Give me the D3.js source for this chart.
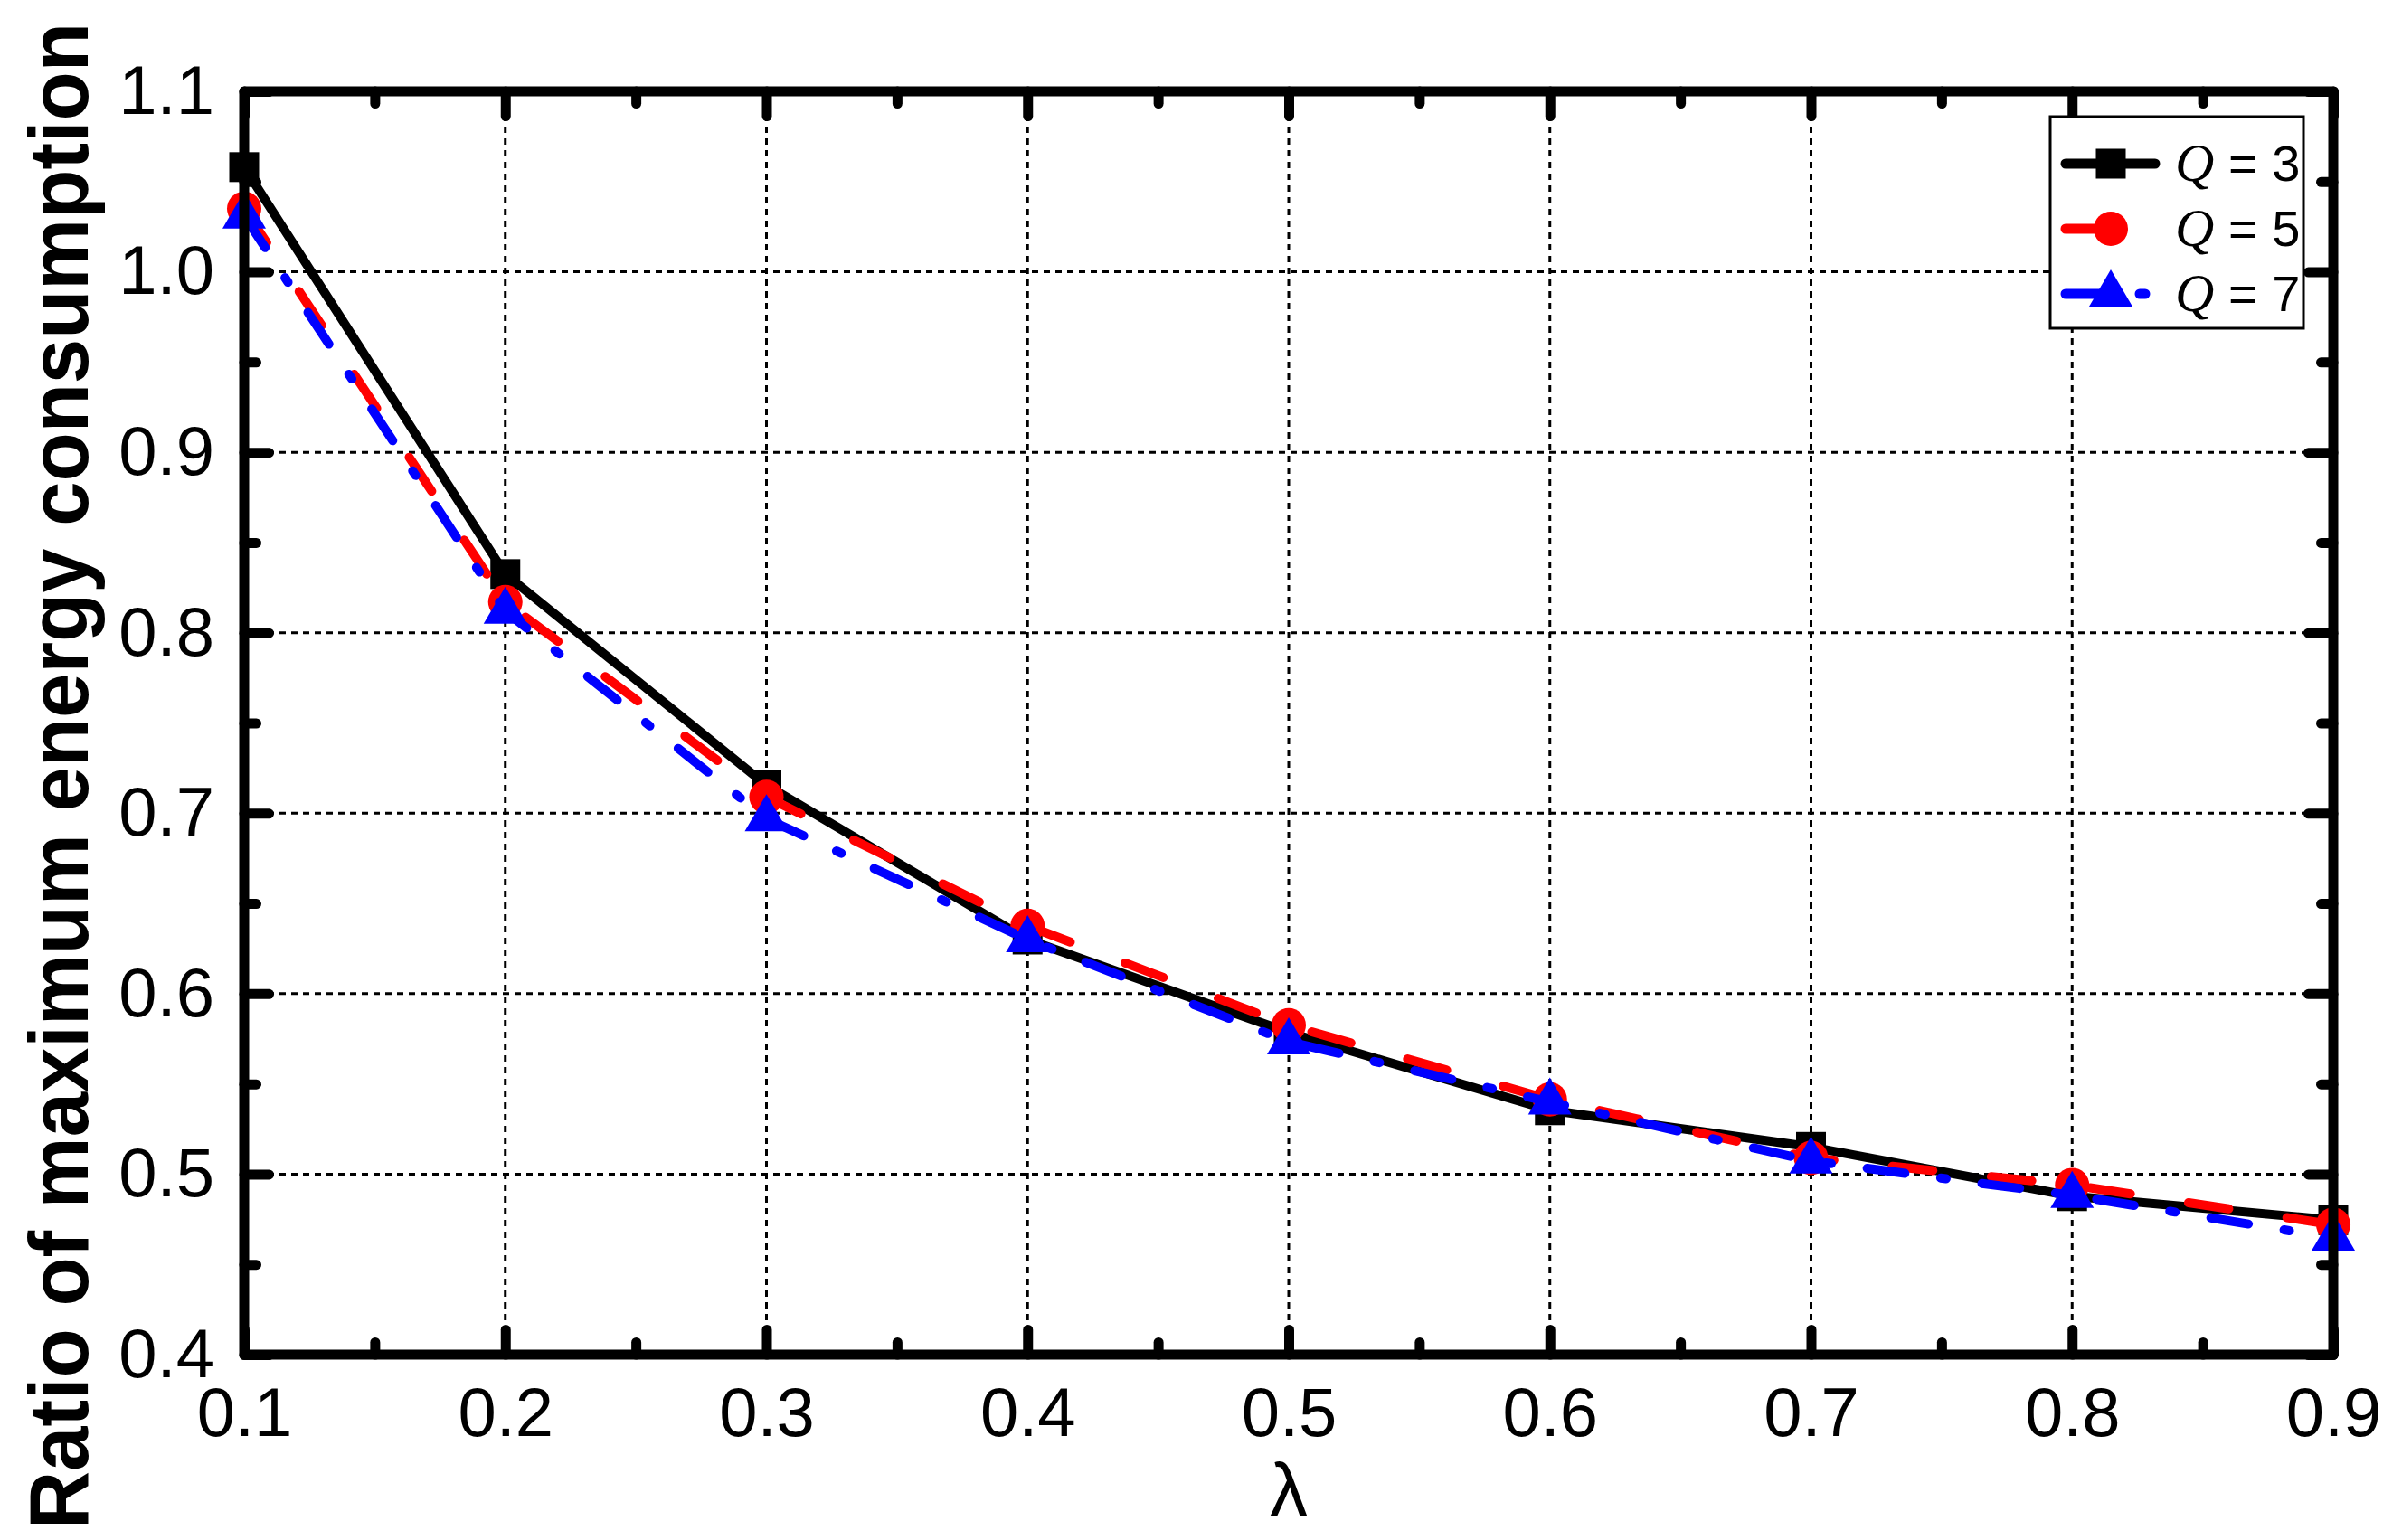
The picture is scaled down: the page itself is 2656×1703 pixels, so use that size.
<!DOCTYPE html>
<html>
<head>
<meta charset="utf-8">
<script src="https://cdn.jsdelivr.net/npm/d3@7"></script>
<style>
  body { margin: 0; background: #fff; }
  svg { display: block; }
  text { font-family: "Liberation Sans", Arial, sans-serif; }
</style>
</head>
<body>
<svg id="chart" width="2656" height="1703"></svg>
<script>
var lambdas = [0.1, 0.2, 0.3, 0.4, 0.5, 0.6, 0.7, 0.8, 0.9];
var q3 = [1.058, 0.8325, 0.7155, 0.630, 0.5785, 0.5354, 0.5151, 0.4878, 0.4745];
var q5 = [1.035, 0.817, 0.709, 0.6376, 0.5825, 0.5414, 0.509, 0.494, 0.472];
var q7 = [1.031, 0.812, 0.697, 0.630, 0.5734, 0.540, 0.5073, 0.4883, 0.4647];
var seriesNames = ["3", "5", "7"];
var xTicks = [0.1, 0.2, 0.3, 0.4, 0.5, 0.6, 0.7, 0.8, 0.9];
var yTicks = [0.4, 0.5, 0.6, 0.7, 0.8, 0.9, 1.0, 1.1];

// plot box (note: "top" is reserved on window, so use plot* names)
var plotLeft = 270, plotRight = 2580, plotTop = 101, plotBottom = 1498;
var svg = d3.select("#chart");

var x = d3.scaleLinear().domain([0.1, 0.9]).range([plotLeft, plotRight]);
var y = d3.scaleLinear().domain([0.4, 1.1]).range([plotBottom, plotTop]);

var xMinor = d3.range(0.15, 0.9, 0.1);
var yMinor = d3.range(0.45, 1.1, 0.1);

// grid
var grid = svg.append("g")
  .attr("stroke", "#000")
  .attr("stroke-width", 3)
  .attr("stroke-dasharray", "7,6");
grid.selectAll(".gx")
  .data(xTicks.slice(1, -1))
  .enter().append("line")
  .attr("x1", function(d) { return x(d); })
  .attr("x2", function(d) { return x(d); })
  .attr("y1", plotTop).attr("y2", plotBottom);
grid.selectAll(".gy")
  .data(yTicks.slice(1, -1))
  .enter().append("line")
  .attr("y1", function(d) { return y(d); })
  .attr("y2", function(d) { return y(d); })
  .attr("x1", plotLeft).attr("x2", plotRight);

// series
var series = [
  {name: seriesNames[0], values: q3, color: "#000000", dash: null, shape: "square"},
  {name: seriesNames[1], values: q5, color: "#ff0000", dash: "45,65", shape: "circle"},
  {name: seriesNames[2], values: q7, color: "#0000ff", dash: "42,40,6,40", shape: "tri"}
];

var line = d3.line()
  .x(function(d, i) { return x(lambdas[i]); })
  .y(function(d) { return y(d); });

function marker(g, s, cx, cy) {
  if (s.shape === "square") {
    g.append("rect").attr("x", cx - 16.5).attr("y", cy - 16.5)
      .attr("width", 33).attr("height", 33).attr("fill", s.color);
  } else if (s.shape === "circle") {
    g.append("circle").attr("cx", cx).attr("cy", cy).attr("r", 19).attr("fill", s.color);
  } else {
    g.append("path")
      .attr("d", "M" + cx + "," + (cy - 27) + "L" + (cx + 24) + "," + (cy + 14) +
                 "L" + (cx - 24) + "," + (cy + 14) + "Z")
      .attr("fill", s.color);
  }
}

series.forEach(function(s) {
  var g = svg.append("g");
  g.append("path")
    .datum(s.values)
    .attr("d", line)
    .attr("fill", "none")
    .attr("stroke", s.color)
    .attr("stroke-width", 10)
    .attr("stroke-linecap", "round")
    .attr("stroke-linejoin", "round")
    .attr("stroke-dasharray", s.dash);
  s.values.forEach(function(v, i) {
    marker(g, s, x(lambdas[i]), y(v));
  });
});

// axes (ticks inward on all four sides)
function styleAxis(g) {
  g.select(".domain").remove();
  g.selectAll(".tick line")
    .attr("stroke", "#000")
    .attr("stroke-width", 11)
    .attr("stroke-linecap", "round");
  g.selectAll("text")
    .attr("font-family", "'Liberation Sans', Arial, sans-serif")
    .attr("font-size", 76)
    .attr("fill", "#000");
}

svg.append("g").attr("transform", "translate(0," + plotBottom + ")")
  .call(d3.axisBottom(x).tickValues(xTicks).tickSize(-27.5).tickPadding(36)
    .tickFormat(d3.format(".1f")))
  .call(styleAxis);
svg.append("g").attr("transform", "translate(0," + plotBottom + ")")
  .call(d3.axisBottom(x).tickValues(xMinor).tickSize(-13.5).tickFormat(""))
  .call(styleAxis);
svg.append("g").attr("transform", "translate(0," + plotTop + ")")
  .call(d3.axisTop(x).tickValues(xTicks).tickSize(-27.5).tickFormat(""))
  .call(styleAxis);
svg.append("g").attr("transform", "translate(0," + plotTop + ")")
  .call(d3.axisTop(x).tickValues(xMinor).tickSize(-13.5).tickFormat(""))
  .call(styleAxis);
svg.append("g").attr("transform", "translate(" + plotLeft + ",0)")
  .call(d3.axisLeft(y).tickValues(yTicks).tickSize(-27.5).tickPadding(33)
    .tickFormat(d3.format(".1f")))
  .call(styleAxis);
svg.append("g").attr("transform", "translate(" + plotLeft + ",0)")
  .call(d3.axisLeft(y).tickValues(yMinor).tickSize(-13.5).tickFormat(""))
  .call(styleAxis);
svg.append("g").attr("transform", "translate(" + plotRight + ",0)")
  .call(d3.axisRight(y).tickValues(yTicks).tickSize(-27.5).tickFormat(""))
  .call(styleAxis);
svg.append("g").attr("transform", "translate(" + plotRight + ",0)")
  .call(d3.axisRight(y).tickValues(yMinor).tickSize(-13.5).tickFormat(""))
  .call(styleAxis);

// frame
svg.append("rect")
  .attr("x", plotLeft).attr("y", plotTop)
  .attr("width", plotRight - plotLeft).attr("height", plotBottom - plotTop)
  .attr("fill", "none")
  .attr("stroke", "#000")
  .attr("stroke-width", 11)
  .attr("stroke-linejoin", "round");

// axis titles
svg.append("text")
  .attr("transform", "translate(97,858) rotate(-90)")
  .attr("text-anchor", "middle")
  .attr("font-weight", "bold")
  .attr("font-size", 92)
  .attr("textLength", 1666)
  .attr("lengthAdjust", "spacingAndGlyphs")
  .text("Ratio of maximum energy consumption");

svg.append("text")
  .attr("x", (plotLeft + plotRight) / 2)
  .attr("y", 1677)
  .attr("text-anchor", "middle")
  .attr("font-family", "'Liberation Serif', 'Times New Roman', serif")
  .attr("font-size", 84)
  .text("λ");

// legend
var legend = svg.append("g");
legend.append("rect")
  .attr("x", 2267).attr("y", 129)
  .attr("width", 280).attr("height", 234)
  .attr("fill", "#fff")
  .attr("stroke", "#000")
  .attr("stroke-width", 3);
var rowY = [181, 253, 325];
series.forEach(function(s, i) {
  var g = legend.append("g");
  g.append("line")
    .attr("x1", 2284).attr("x2", 2383)
    .attr("y1", rowY[i]).attr("y2", rowY[i])
    .attr("stroke", s.color)
    .attr("stroke-width", 11)
    .attr("stroke-linecap", "round")
    .attr("stroke-dasharray", s.dash);
  marker(g, s, 2334, rowY[i]);
  var t = g.append("text")
    .attr("x", 2405)
    .attr("y", rowY[i] + 19)
    .attr("font-size", 56);
  t.append("tspan")
    .attr("font-family", "'Liberation Serif', 'Times New Roman', serif")
    .attr("font-style", "italic")
    .attr("font-size", 60)
    .text("Q");
  t.append("tspan").text(" = " + s.name);
});
</script>
</body>
</html>
